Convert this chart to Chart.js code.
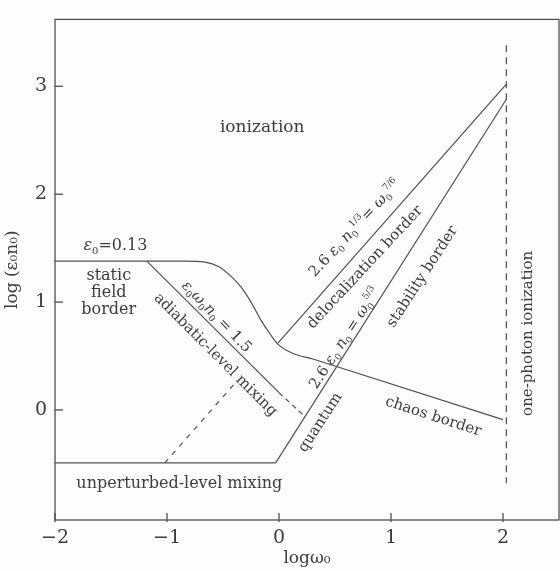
<!DOCTYPE html>
<html><head><meta charset="utf-8">
<script src="https://cdn.jsdelivr.net/npm/chart.js@4.4.1/dist/chart.umd.min.js"></script>
<style>html,body{margin:0;padding:0;background:#fdfdfd;} #wrap{width:560px;height:571px;}</style>
</head><body><div id="wrap"><canvas id="c" width="560" height="571"></canvas></div>
<script>
// ---- data (log10 units) ----
const xTickValues = [-2, -1, 0, 1, 2];
const yTickValues = [0, 1, 2, 3];

const fieldCurveX = [-2, -0.85, -0.66, -0.54, -0.43, -0.34, -0.25, -0.16, -0.07, -0.01, 0.11, 0.31];
const fieldCurveY = [1.38, 1.38, 1.37, 1.33, 1.24, 1.14, 1.00, 0.83, 0.69, 0.61, 0.53, 0.47];
const chaosX = [0.31, 2.0];
const chaosY = [0.47, -0.09];
const adiabaticX = [-1.18, 0.0];
const adiabaticY = [1.38, 0.16];
const adiabaticDashX = [0.0, 0.23];
const adiabaticDashY = [0.16, -0.06];
const delocX = [-0.01, 2.03];
const delocY = [0.62, 3.02];
const stabilityX = [-0.03, 2.03];
const stabilityY = [-0.49, 2.88];
const unperturbedX = [-2, -0.03];
const unperturbedY = [-0.49, -0.49];
const crossoverX = [-1.02, -0.40];
const crossoverY = [-0.49, 0.24];
const photonX = [2.03, 2.03];
const photonY = [3.38, -0.68];

const pts = (xs, ys) => xs.map((x, i) => ({x: x, y: ys[i]}));

const LINE = '#505050';
const TEXT = '#3c3c3c';
const SERIF = '"DejaVu Serif", "Liberation Serif", serif';

// ---- text annotations (placed in data coordinates) ----
const regionLabels = [
  {parts: [{t: 'ionization'}], x: -0.15, y: 2.63, rot: 0, size: 17},
  {parts: [{t: 'ε', it: 1}, {t: '0', sub: 1}, {t: '=0.13'}], x: -1.46, y: 1.53, rot: 0, size: 16},
  {parts: [{t: 'static'}], x: -1.52, y: 1.26, rot: 0, size: 16},
  {parts: [{t: 'field'}], x: -1.52, y: 1.10, rot: 0, size: 16},
  {parts: [{t: 'border'}], x: -1.52, y: 0.94, rot: 0, size: 16},
  {parts: [{t: 'ε', it: 1}, {t: '0', sub: 1}, {t: 'ω', it: 1}, {t: '0', sub: 1}, {t: 'n', it: 1}, {t: '0', sub: 1}, {t: ' = 1.5'}], x: -0.55, y: 0.87, rot: 46, size: 15},
  {parts: [{t: 'adiabatic-level mixing'}], x: -0.56, y: 0.52, rot: 45, size: 15},
  {parts: [{t: '2.6 '}, {t: 'ε', it: 1}, {t: '0', sub: 1}, {t: ' n', it: 1}, {t: '0', sub: 1}, {t: '1/3', sup: 1}, {t: '= '}, {t: 'ω', it: 1}, {t: '0', sub: 1}, {t: '7/6', sup: 1}], x: 0.67, y: 1.69, rot: -47, size: 15},
  {parts: [{t: 'delocalization border'}], x: 0.76, y: 1.33, rot: -47, size: 15},
  {parts: [{t: '2.6 '}, {t: 'ε', it: 1}, {t: '0', sub: 1}, {t: ' n', it: 1}, {t: '0', sub: 1}, {t: ' = '}, {t: 'ω', it: 1}, {t: '0', sub: 1}, {t: '5/3', sup: 1}], x: 0.58, y: 0.67, rot: -57, size: 15},
  {parts: [{t: 'stability border'}], x: 1.27, y: 1.24, rot: -57, size: 15},
  {parts: [{t: 'quantum'}], x: 0.36, y: -0.11, rot: -57, size: 15},
  {parts: [{t: 'chaos border'}], x: 1.38, y: -0.05, rot: 18, size: 15},
  {parts: [{t: 'one-photon ionization'}], x: 2.21, y: 0.71, rot: -90, size: 15},
  {parts: [{t: 'unperturbed-level mixing'}], x: -0.89, y: -0.67, rot: 0, size: 16}
];

function partFont(p, size) {
  const s = (p.sub || p.sup) ? Math.round(size * 0.62) : size;
  return (p.it ? 'italic ' : '') + s + 'px ' + SERIF;
}

const annotationPlugin = {
  id: 'annot',
  afterDatasetsDraw(chart) {
    const ctx = chart.ctx, xs = chart.scales.x, ys = chart.scales.y, a = chart.chartArea;
    ctx.save();
    // frame
    ctx.strokeStyle = LINE; ctx.lineWidth = 1.3;
    ctx.strokeRect(a.left, a.top, a.right - a.left, a.bottom - a.top);
    // inward ticks
    xTickValues.forEach(v => {
      const px = xs.getPixelForValue(v);
      ctx.beginPath(); ctx.moveTo(px, a.bottom + 2); ctx.lineTo(px, a.bottom - 7); ctx.stroke();
    });
    yTickValues.forEach(v => {
      const py = ys.getPixelForValue(v);
      ctx.beginPath(); ctx.moveTo(a.left, py); ctx.lineTo(a.left + 8, py); ctx.stroke();
    });
    // labels
    ctx.fillStyle = TEXT;
    ctx.textBaseline = 'alphabetic';
    ctx.textAlign = 'left';
    regionLabels.forEach(l => {
      const size = l.size;
      let w = 0;
      l.parts.forEach(p => { ctx.font = partFont(p, size); w += ctx.measureText(p.t).width; });
      ctx.save();
      ctx.translate(xs.getPixelForValue(l.x), ys.getPixelForValue(l.y));
      ctx.rotate(l.rot * Math.PI / 180);
      let cx = -w / 2;
      const base = size * 0.35;
      l.parts.forEach(p => {
        ctx.font = partFont(p, size);
        let dy = base;
        if (p.sub) dy += size * 0.22;
        if (p.sup) dy -= size * 0.45;
        ctx.fillText(p.t, cx, dy);
        cx += ctx.measureText(p.t).width;
      });
      ctx.restore();
    });
    ctx.restore();
  }
};

const bgPlugin = {
  id: 'bg',
  beforeDraw(chart) {
    const ctx = chart.ctx;
    ctx.save(); ctx.fillStyle = '#fdfdfd'; ctx.fillRect(0, 0, chart.width, chart.height); ctx.restore();
  }
};

function lineSet(xs, ys, opts) {
  return Object.assign({
    data: pts(xs, ys), showLine: true, pointRadius: 0, borderColor: LINE,
    borderWidth: 1.2, fill: false, tension: 0
  }, opts || {});
}

const minusLabel = v => (v < 0 ? '\u2212' + Math.abs(v) : String(v));

new Chart(document.getElementById('c'), {
  type: 'scatter',
  data: {
    datasets: [
      lineSet(fieldCurveX, fieldCurveY, {cubicInterpolationMode: 'monotone'}),
      lineSet(chaosX, chaosY),
      lineSet(adiabaticX, adiabaticY),
      lineSet(adiabaticDashX, adiabaticDashY, {borderDash: [5, 4]}),
      lineSet(delocX, delocY),
      lineSet(stabilityX, stabilityY),
      lineSet(unperturbedX, unperturbedY),
      lineSet(crossoverX, crossoverY, {borderDash: [5, 6]}),
      lineSet(photonX, photonY, {borderDash: [7, 5]})
    ]
  },
  options: {
    responsive: false, animation: false, devicePixelRatio: 1,
    layout: {padding: {top: 11, right: 1, left: 0, bottom: 0}},
    plugins: {legend: {display: false}, tooltip: {enabled: false}},
    scales: {
      x: {
        type: 'linear', min: -2, max: 2.5,
        afterBuildTicks: s => { s.ticks = xTickValues.map(v => ({value: v})); },
        afterFit: s => { s.height = 51; },
        grid: {display: false, drawTicks: false},
        border: {display: false},
        ticks: {color: TEXT, font: {family: SERIF, size: 19}, padding: 7, callback: minusLabel, maxRotation: 0, autoSkip: false},
        title: {display: true, text: 'logω₀', color: TEXT, font: {family: SERIF, size: 17}, padding: {top: -6, bottom: 2}}
      },
      y: {
        type: 'linear', min: -1.02, max: 3.62,
        afterBuildTicks: s => { s.ticks = yTickValues.map(v => ({value: v})); },
        afterFit: s => { s.width = 55; },
        grid: {display: false, drawTicks: false},
        border: {display: false},
        ticks: {color: TEXT, font: {family: SERIF, size: 19}, padding: 8, callback: minusLabel, autoSkip: false},
        title: {display: true, text: 'log (ε₀n₀)', color: TEXT, font: {family: SERIF, size: 17}, padding: {top: 2, bottom: 0}}
      }
    }
  },
  plugins: [bgPlugin, annotationPlugin]
});
</script>
</body></html>
